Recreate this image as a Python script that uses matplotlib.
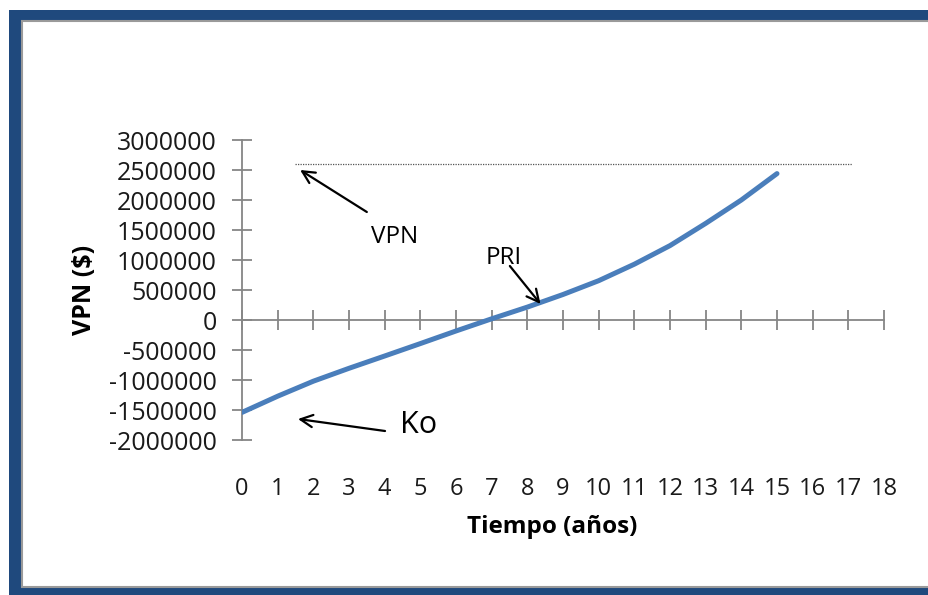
import matplotlib.pyplot as plt
from matplotlib.patches import Rectangle

plt.rcParams['font.family'] = ['Open Sans', 'DejaVu Sans']

# VPN acumulado por año
years = [0, 1, 2, 3, 4, 5, 6, 7, 8, 9, 10, 11, 12, 13, 14, 15]
vpn = [-1540000, -1270000, -1020000, -805000, -600000, -393000, -183000, 20000,
       215000, 425000, 655000, 930000, 1240000, 1610000, 2000000, 2440000]

# línea de referencia del VPN final
vpn_level = 2600000
vpn_level_x = [1.5, 17.1]

y_ticks = [-2000000, -1500000, -1000000, -500000, 0, 500000, 1000000,
           1500000, 2000000, 2500000, 3000000]
x_ticks = list(range(0, 19))

axis_gray = '#868686'
line_blue = '#4A7EBB'
frame_blue = '#1F497D'

W, H = 929, 595
fig = plt.figure(figsize=(W / 100, H / 100), dpi=100)

# marco azul y panel blanco (detrás de los ejes)
fig.patches.append(Rectangle((9 / W, 0), 1, (H - 10) / H, transform=fig.transFigure,
                             facecolor=frame_blue, edgecolor='none', zorder=-3))
fig.patches.append(Rectangle((22 / W, 8 / H), (940 - 22) / W, (587 - 21) / H,
                             transform=fig.transFigure, facecolor='white',
                             edgecolor='#9a9a9a', linewidth=1.5, zorder=-2))

ax = fig.add_axes([242 / W, (H - 440) / H, (884 - 242) / W, 300 / H])
ax.set_facecolor('none')

ax.plot(years, vpn, color=line_blue, lw=3.6, solid_capstyle='round',
        solid_joinstyle='round', zorder=3)
ax.hlines(vpn_level, vpn_level_x[0], vpn_level_x[1], colors='#555555',
          linestyles=(0, (1, 1)), lw=0.9)

ax.set_xlim(0, 18)
ax.set_ylim(-2000000, 3000000)
ax.set_xticks(x_ticks)
ax.set_yticks(y_ticks)
ax.set_yticklabels([str(v) for v in y_ticks])

for s in ['top', 'right']:
    ax.spines[s].set_visible(False)
ax.spines['bottom'].set_position(('data', 0))
for s in ['left', 'bottom']:
    ax.spines[s].set_color(axis_gray)
    ax.spines[s].set_linewidth(1.3)

ax.tick_params(axis='both', direction='inout', length=14, width=1.3,
               color=axis_gray, labelcolor='#1a1a1a')
ax.tick_params(axis='y', pad=11, labelsize=18)
ax.tick_params(axis='x', pad=106, labelsize=17)

ax.set_ylabel('VPN ($)', fontsize=18, fontweight='bold', va='center')
ax.yaxis.set_label_coords(-0.245, 0.5)
ax.set_xlabel('Tiempo (años)', fontsize=17.5, fontweight='bold', va='center')
ax.xaxis.set_label_coords(0.483, -0.29)

arrow = dict(arrowstyle='->', lw=1.6, color='black', mutation_scale=22,
             shrinkA=0, shrinkB=0)
ax.annotate('', xy=(1.63, 2500000), xytext=(3.5, 1800000), arrowprops=arrow)
ax.text(4.29, 1380000, 'VPN', fontsize=17.5, ha='center', va='center')

ax.annotate('', xy=(8.37, 267000), xytext=(7.51, 900000), arrowprops=arrow)
ax.text(7.35, 1040000, 'PRI', fontsize=17.5, ha='center', va='center')

ax.annotate('', xy=(1.57, -1650000), xytext=(4.01, -1850000), arrowprops=arrow)
ax.text(4.96, -1750000, 'Ko', fontsize=22, ha='center', va='center')

fig.savefig('out.png', dpi=100)
